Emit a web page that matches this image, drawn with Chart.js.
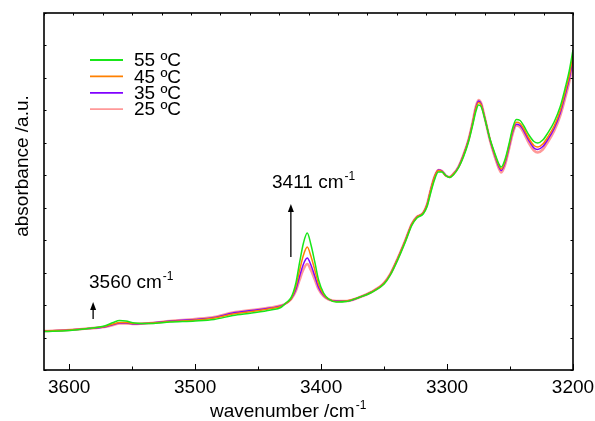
<!DOCTYPE html>
<html>
<head>
<meta charset="utf-8">
<script src="https://cdn.jsdelivr.net/npm/chart.js@4.4.0/dist/chart.umd.min.js"></script>
<style>
  body { margin: 0; background: #fff; }
  #wrap { width: 595px; height: 421px; }
</style>
</head>
<body>
<div id="wrap"><canvas id="ir" width="595" height="421"></canvas></div>
<script>
// wavenumber (cm-1) and absorbance (a.u.)
const wavenumbers = [3620, 3600, 3585, 3572, 3565, 3560, 3555, 3548, 3535, 3520,
  3500, 3485, 3470, 3455, 3440, 3432, 3428, 3424, 3422, 3420,
  3417, 3414, 3411, 3408, 3405, 3402, 3398, 3394, 3388, 3380,
  3370, 3360, 3350, 3345, 3339, 3333, 3328, 3324, 3319, 3316,
  3313, 3310, 3307, 3304, 3301, 3298, 3295, 3291, 3287, 3283,
  3280, 3277, 3275, 3273, 3270, 3266, 3262, 3259, 3257, 3254,
  3251, 3248, 3245, 3242, 3239, 3235, 3231, 3228, 3224, 3220,
  3215, 3210, 3206, 3203, 3200];

const abs55 = [38.5, 39.5, 41.5, 44, 47.5, 49.5, 49, 47, 46.5, 48,
  49, 50.5, 54.5, 57, 60, 62.5, 67, 72, 78, 87,
  108, 127, 137, 125, 108, 90, 77, 71, 68, 68.5,
  72.5, 77.5, 86, 95, 110.5, 128.5, 144.5, 152, 156, 163,
  177, 190, 198, 198, 194.5, 192.5, 195, 202, 213, 228,
  243, 259, 265, 263.5, 251, 231.5, 216.5, 206.5, 203, 210.5,
  225, 241.5, 250.5, 249.5, 244, 235, 228.5, 227, 230, 237,
  248, 264, 283, 299, 320];

const abs45 = [39, 40, 41.5, 43.5, 46, 47.5, 47.5, 46.5, 47, 48.5,
  50, 52, 56, 58.5, 61.5, 63.5, 66.5, 71, 76.3, 83.4,
  100, 115, 123, 113.5, 100, 85.8, 75.5, 70.8, 68.5, 69,
  72.5, 78, 87, 96, 112, 130, 146, 153, 157, 165,
  180, 193, 199.5, 198.5, 194, 193, 196, 202.5, 214.5, 229.5,
  245, 262, 267.5, 265.5, 252, 231, 215, 205, 201, 208.5,
  223, 239, 247.7, 246.5, 241, 231.5, 224.5, 223, 226, 233,
  244, 260, 279, 294, 315];

const abs35 = [39, 40, 41.5, 43, 45.5, 47, 47, 46, 47, 49,
  50.5, 52.5, 57, 59.5, 62, 64, 66.5, 70.8, 75, 80.7,
  94, 106, 112, 104.7, 94, 82.6, 74.4, 70.6, 69, 69,
  72.5, 78, 87, 96, 112, 130, 146, 153, 157, 165,
  180, 193, 200, 199, 194.5, 193, 196, 203, 215, 230,
  245.5, 263, 269, 266.5, 252, 230.5, 214, 203.5, 199.5, 207,
  221.5, 237.5, 245.7, 244.5, 239, 229.5, 222, 220.5, 223.5, 230.5,
  241.5, 257.5, 276, 291, 311];

const abs25 = [39, 40, 41.5, 43, 45, 46.5, 46.5, 46, 47, 49,
  51, 53, 57.5, 60, 62.5, 64.5, 66.5, 70.5, 74.3, 79.2,
  90.5, 100.8, 106, 99.7, 90.5, 80.8, 73.8, 70.5, 69, 69,
  72.5, 78, 87, 96, 112, 130, 146, 153, 157, 165,
  180, 193, 200, 199, 194.5, 193, 196, 203, 215, 230,
  246, 264, 270, 267, 252, 230, 213, 202, 197.5, 205,
  220, 236, 244.5, 243, 237, 227, 219.5, 217.5, 220.5, 228,
  239, 255, 273, 288, 307];

const seriesLabels = ['55 ºC', '45 ºC', '35 ºC', '25 ºC'];
const seriesValues = [abs55, abs45, abs35, abs25];
const seriesColors = ['#19e619', '#ff8000', '#8000ff', '#ff9999'];
const seriesWidths = [1.5, 1.5, 1.5, 2.6];

const xMajorTicks = [3600, 3500, 3400, 3300, 3200];
const xMinorTicks = [3550, 3450, 3350, 3250];

const FONT = '"Liberation Sans", Arial, sans-serif';
const FS = 19;

function toPoints(vals) {
  return wavenumbers.map((w, i) => ({ x: w, y: vals[i] }));
}

// text with a superscript tail, e.g. cm-1
function supText(ctx, text, sup, x, y, size) {
  ctx.font = size + 'px ' + FONT;
  ctx.textAlign = 'left';
  ctx.textBaseline = 'alphabetic';
  ctx.fillText(text, x, y);
  const w = ctx.measureText(text).width;
  ctx.font = Math.round(size * 0.65) + 'px ' + FONT;
  ctx.fillText(sup, x + w + 1, y - size * 0.42);
}

function arrowUp(ctx, x, y0, y1) {
  ctx.beginPath();
  ctx.moveTo(x, y0);
  ctx.lineTo(x, y1 + 6);
  ctx.stroke();
  ctx.beginPath();
  ctx.moveTo(x, y1);
  ctx.lineTo(x - 3, y1 + 8);
  ctx.lineTo(x + 3, y1 + 8);
  ctx.closePath();
  ctx.fill();
}

const decor = {
  id: 'decor',
  afterDraw(chart) {
    const ctx = chart.ctx;
    const a = chart.chartArea;
    const sx = chart.scales.x, sy = chart.scales.y;
    const st = chart.scales.xTop, sr = chart.scales.yRight;
    ctx.save();
    ctx.strokeStyle = '#000';
    ctx.fillStyle = '#000';

    // inward tick marks
    ctx.lineWidth = 1;
    ctx.beginPath();
    xMajorTicks.forEach(v => {
      const p = Math.round(sx.getPixelForValue(v)) + 0.5;
      ctx.moveTo(p, a.bottom); ctx.lineTo(p, a.bottom - 6);
    });
    xMinorTicks.forEach(v => {
      const p = Math.round(sx.getPixelForValue(v)) + 0.5;
      ctx.moveTo(p, a.bottom); ctx.lineTo(p, a.bottom - 3.5);
    });
    st.ticks.forEach(t => {
      const p = Math.round(st.getPixelForValue(t.value)) + 0.5;
      ctx.moveTo(p, a.top); ctx.lineTo(p, a.top + 2.5);
    });
    sy.ticks.forEach(t => {
      const p = Math.round(sy.getPixelForValue(t.value)) + 0.5;
      ctx.moveTo(a.left, p); ctx.lineTo(a.left + 2.5, p);
    });
    sr.ticks.forEach(t => {
      const p = Math.round(sr.getPixelForValue(t.value)) + 0.5;
      ctx.moveTo(a.right, p); ctx.lineTo(a.right - 2.5, p);
    });
    ctx.stroke();

    // frame
    ctx.lineWidth = 1.6;
    ctx.strokeRect(a.left, a.top, a.right - a.left, a.bottom - a.top);

    // legend
    chart.data.datasets.forEach((ds, i) => {
      const yy = 60 + i * 16.4;
      ctx.strokeStyle = ds.borderColor;
      ctx.lineWidth = 1.8;
      ctx.beginPath();
      ctx.moveTo(90, yy); ctx.lineTo(123, yy);
      ctx.stroke();
      ctx.fillStyle = '#000';
      ctx.font = FS + 'px ' + FONT;
      ctx.textAlign = 'left';
      ctx.textBaseline = 'middle';
      ctx.fillText(ds.label, 134, yy + 1);
    });

    // peak annotations
    ctx.strokeStyle = '#000';
    ctx.fillStyle = '#000';
    ctx.lineWidth = 1.3;
    supText(ctx, '3411 cm', '-1', 272, 188, FS);
    arrowUp(ctx, sx.getPixelForValue(3424), 257, 204);
    supText(ctx, '3560 cm', '-1', 89, 288, FS);
    arrowUp(ctx, sx.getPixelForValue(3581), 319, 302);

    // axis titles
    supText(ctx, 'wavenumber /cm', '-1', 210, 416.5, FS);
    ctx.save();
    ctx.translate(28, 166);
    ctx.rotate(-Math.PI / 2);
    ctx.font = FS + 'px ' + FONT;
    ctx.textAlign = 'center';
    ctx.textBaseline = 'alphabetic';
    ctx.fillText('absorbance /a.u.', 0, 0);
    ctx.restore();

    ctx.restore();
  }
};

new Chart(document.getElementById('ir'), {
  type: 'line',
  data: {
    datasets: seriesLabels.map((lab, i) => ({
      label: lab,
      data: toPoints(seriesValues[i]),
      borderColor: seriesColors[i],
      borderWidth: seriesWidths[i],
      pointRadius: 0,
      fill: false,
      cubicInterpolationMode: 'monotone'
    }))
  },
  options: {
    responsive: false,
    devicePixelRatio: 1,
    animation: false,
    layout: { padding: 0 },
    plugins: { legend: { display: false }, tooltip: { enabled: false } },
    scales: {
      x: {
        type: 'linear', position: 'bottom',
        min: 3200, max: 3620, reverse: true,
        grid: { display: false, drawTicks: false },
        border: { display: false },
        afterBuildTicks: s => { s.ticks = xMajorTicks.map(v => ({ value: v })); },
        ticks: {
          color: '#000', font: { family: FONT, size: FS }, padding: 6,
          maxRotation: 0, autoSkip: false,
          callback: v => String(v)
        },
        afterFit: s => { s.height = 51; s.paddingLeft = 0; s.paddingRight = 0; }
      },
      xTop: {
        type: 'linear', position: 'top', min: 0, max: 18,
        grid: { display: false, drawTicks: false },
        border: { display: false },
        ticks: { display: false, stepSize: 1 },
        afterFit: s => { s.height = 13; s.paddingLeft = 0; s.paddingRight = 0; }
      },
      y: {
        type: 'linear', position: 'left', min: 0, max: 357,
        grid: { display: false, drawTicks: false },
        border: { display: false },
        afterBuildTicks: s => {
          const t = [];
          for (let i = 0; i <= 11; i++) t.push({ value: i * 357 / 11 });
          s.ticks = t;
        },
        ticks: { display: false },
        afterFit: s => { s.width = 44; }
      },
      yRight: {
        type: 'linear', position: 'right', min: 0, max: 11,
        grid: { display: false, drawTicks: false },
        border: { display: false },
        ticks: { display: false, stepSize: 1 },
        afterFit: s => { s.width = 22; }
      }
    }
  },
  plugins: [decor]
});
</script>
</body>
</html>
